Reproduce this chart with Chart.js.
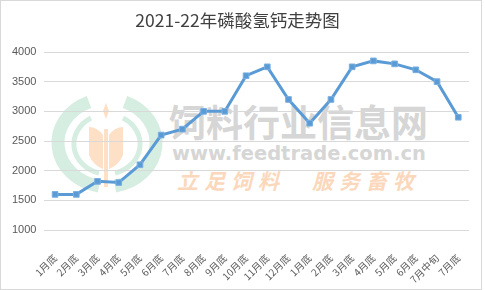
<!DOCTYPE html>
<html>
<head>
<meta charset="utf-8">
<script src="https://cdn.jsdelivr.net/npm/chart.js@4"></script>
<style>
  body { margin: 0; background: #fff; }
  #frame {
    position: absolute; left: 0; top: 0;
    width: 480px; height: 288px;
    border: 1px solid #d9d9d9;
    overflow: hidden;
  }
  .wm { position: absolute; white-space: nowrap; font-family: "Noto Sans CJK SC", sans-serif; }
  #wm1 { left: 168px; top: 93px; font-size: 37px; font-weight: bold; color: #d6d6d6; letter-spacing: 0px; }
  #wm2 { left: 171px; top: 141px; font-size: 19.5px; font-weight: bold; color: #d6d6d6; font-family: "DejaVu Sans", sans-serif; }
  #wm3 { left: 176px; top: 164px; font-size: 21px; font-weight: bold; font-style: italic; color: #fbd8bb; letter-spacing: 6px; }
  #logo { position: absolute; left: 0; top: 0; }
  canvas { position: absolute; left: 0; top: 0; }
</style>
</head>
<body>
<div id="frame">
  <svg id="logo" width="480" height="288">
    <g fill="none" stroke="#d6ede1">
      <path d="M 88 101 A 50 44 0 0 0 98 185" stroke-width="13" />
      <path d="M 124 101 A 50 44 0 0 1 114 185" stroke-width="13" />
      <path d="M 90 117 A 34 30 0 0 0 98 172" stroke-width="5" />
      <path d="M 122 117 A 34 30 0 0 1 114 172" stroke-width="5" />
    </g>
    <g fill="#fde0c6">
      <path d="M 105 102 L 108 110 L 105 118 L 102 110 Z" />
      <path d="M 88 126 Q 96 126 102 134 L 102 168 Q 92 164 88 154 Z" />
      <path d="M 122 126 Q 114 126 108 134 L 108 168 Q 118 164 122 154 Z" />
      <rect x="103" y="128" width="4" height="58" />
    </g>
  </svg>
  <div class="wm" id="wm1">饲料行业信息网</div>
  <div class="wm" id="wm2">www.feedtrade.com.cn</div>
  <div class="wm" id="wm3">立足饲料　服务畜牧</div>
  <canvas id="chart" width="480" height="288"></canvas>
</div>
<script>
// categories and prices
var labels = ["1月底", "2月底", "3月底", "4月底", "5月底", "6月底", "7月底", "8月底", "9月底", "10月底",
  "11月底", "12月底", "1月底", "2月底", "3月底", "4月底", "5月底", "6月底", "7月中旬", "7月底"];
var prices = [1600, 1600, 1820, 1800, 2100, 2600, 2700, 3000, 3000, 3600,
  3750, 3200, 2800, 3200, 3750, 3850, 3800, 3700, 3500, 2900];
var yTicks = [1000, 1500, 2000, 2500, 3000, 3500, 4000];

var font = "'Noto Sans CJK SC', 'Noto Sans', sans-serif";

new Chart(document.getElementById("chart").getContext("2d"), {
  type: "line",
  data: {
    labels: labels,
    datasets: [
      {
        data: prices,
        borderColor: "#5b9bd5",
        backgroundColor: "#5b9bd5",
        borderWidth: 3,
        pointStyle: "rect",
        pointRadius: 4,
        pointBorderWidth: 1,
        pointBorderColor: "#7aafe0",
        tension: 0,
        fill: false,
      },
    ],
  },
  options: {
    responsive: false,
    animation: false,
    layout: { padding: { left: 3, right: 10, top: 0, bottom: 0 } },
    plugins: {
      legend: { display: false },
      tooltip: { enabled: false },
      title: {
        display: true,
        text: "2021-22年磷酸氢钙走势图",
        color: "#404040",
        font: { family: font, size: 17.5, weight: "normal" },
        padding: { top: 9, bottom: 21 },
      },
    },
    scales: {
      x: {
        offset: true,
        grid: { display: false },
        border: { display: false },
        afterFit: function (axis) {
          axis.height = 59;
        },
        ticks: {
          color: "#595959",
          font: { family: font, size: 10 },
          minRotation: 45,
          maxRotation: 45,
          autoSkip: false,
          padding: 14,
        },
      },
      y: {
        min: 1000,
        max: 4000,
        afterBuildTicks: function (axis) {
          axis.ticks = yTicks.map(function (v) { return { value: v }; });
        },
        grid: { color: "#d9d9d9", drawTicks: false, lineWidth: 1 },
        border: { display: false },
        ticks: {
          color: "#595959",
          font: { family: "'Liberation Sans', sans-serif", size: 11 },
          padding: 8,
          callback: function (v) { return String(v); },
        },
      },
    },
  },
});
</script>
</body>
</html>
